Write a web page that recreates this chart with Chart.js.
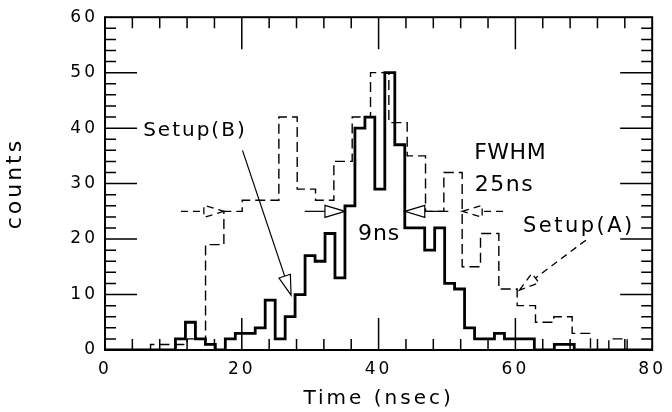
<!DOCTYPE html>
<html>
<head>
<meta charset="utf-8">
<script src="https://cdn.jsdelivr.net/npm/chart.js@4.4.1/dist/chart.umd.min.js"></script>
<style>
html, body { margin:0; padding:0; background:#fff; }
#wrap { width:672px; height:412px; }
</style>
</head>
<body>
<div id="wrap"><canvas id="timeChart"></canvas></div>
<script>

// Setup(B): thick solid histogram (left bin edge -> counts)
const solidBinEdges = [0, 10.30, 11.76, 13.22, 14.68, 16.13, 17.59, 19.05, 20.51, 21.96,
    23.42, 24.88, 26.34, 27.79, 29.25, 30.71, 32.17, 33.62, 35.08, 36.54,
    38.00, 39.45, 40.91, 42.37, 43.83, 45.28, 46.74, 48.20, 49.66, 51.11,
    52.57, 54.03, 55.49, 56.94, 58.40, 59.86, 61.32, 62.77, 64.23, 65.69,
    67.15, 68.60, 80];
const solidCounts = [0, 2, 5, 2, 1, 0, 2, 3, 3, 4,
    9, 2, 6, 10, 17, 16, 21, 13, 26, 40,
    42, 29, 50, 37, 22, 22, 18, 22, 12, 11,
    4, 2, 2, 3, 2, 2, 2, 0, 0, 1,
    1, 0, 0];

// Setup(A): dashed histogram
const dashedBinEdges = [0, 6.66, 9.34, 12.02, 14.70, 17.38, 20.06, 22.74, 25.42, 28.10,
    30.78, 33.46, 36.14, 38.82, 41.50, 44.18, 46.86, 49.54, 52.22, 54.90,
    57.58, 60.26, 62.94, 65.62, 68.30, 70.98, 73.66, 76.34, 80];
const dashedCounts = [0, 1, 1, 2, 19, 25, 27, 27, 42, 29,
    27, 34, 42, 50, 41, 35, 25, 32, 15, 21,
    11, 8, 5, 6, 3, 0, 2, 0, 0];

const xTickLabels = [0, 20, 40, 60, 80];
const yTickLabels = [0, 10, 20, 30, 40, 50, 60];

// text notes, in data coordinates
const notes = [
    {text:"Setup(B)", x:13.0, y:39.5, size:20, spacing:2},
    {text:"Setup(A)", x:69.1, y:22.2, size:21, spacing:2.5},
    {text:"FWHM",     x:59.2, y:35.4, size:22, spacing:0.5},
    {text:"25ns",     x:58.3, y:29.7, size:22, spacing:1.5},
    {text:"9ns",      x:40.0, y:20.8, size:22, spacing:1}
];

// arrows: tail -> tip
const arrows = [
    {from:[29.2, 25], to:[35.08, 25], dashed:false},
    {from:[50.2, 25], to:[43.83, 25], dashed:false},
    {from:[11.1, 25], to:[17.38, 25], dashed:true},
    {from:[58.2, 25], to:[52.22, 25], dashed:true},
    {from:[20.1, 36], to:[27.2, 9.9], dashed:false},
    {from:[70.3, 19.8], to:[60.6, 10.8], dashed:true}
];

const FONT = "'DejaVu Sans', sans-serif";
const HEAD_LEN = 20, HEAD_HALF = 6;

function drawArrow(ctx, x1, y1, x2, y2, dashed){
    const ang = Math.atan2(y2 - y1, x2 - x1);
    const bx = x2 - HEAD_LEN * Math.cos(ang), by = y2 - HEAD_LEN * Math.sin(ang);
    const nx = -Math.sin(ang) * HEAD_HALF, ny = Math.cos(ang) * HEAD_HALF;
    ctx.lineWidth = dashed ? 1.3 : 1.2;
    ctx.setLineDash(dashed ? [7, 5] : []);
    ctx.beginPath();
    ctx.moveTo(x1, y1);
    ctx.lineTo(bx, by);
    ctx.stroke();
    ctx.beginPath();
    ctx.moveTo(x2, y2);
    ctx.lineTo(bx + nx, by + ny);
    ctx.lineTo(bx - nx, by - ny);
    ctx.closePath();
    if(!dashed){
        ctx.fillStyle = "#fff";
        ctx.fill();
    }
    ctx.stroke();
    ctx.setLineDash([]);
}

// frame with inward ticks on all four sides, plus arrows and notes
const frameAndNotes = {
    id:"frameAndNotes",
    beforeDraw(chart){
        chart.ctx.letterSpacing = "3px";
    },
    afterDatasetsDraw(chart){
        const {ctx, chartArea:a, scales:{x, y}} = chart;
        ctx.save();
        ctx.letterSpacing = "0px";
        ctx.strokeStyle = "#000";
        ctx.lineWidth = 1.5;
        ctx.beginPath();
        for(let v = 4; v < 80; v += 4){
            const px = x.getPixelForValue(v);
            const len = (v % 20 === 0) ? 32 : 11;
            ctx.moveTo(px, a.bottom); ctx.lineTo(px, a.bottom - len);
            ctx.moveTo(px, a.top); ctx.lineTo(px, a.top + len);
        }
        for(let v = 2; v < 60; v += 2){
            const py = y.getPixelForValue(v);
            const len = (v % 10 === 0) ? 32 : 11;
            ctx.moveTo(a.left, py); ctx.lineTo(a.left + len, py);
            ctx.moveTo(a.right, py); ctx.lineTo(a.right - len, py);
        }
        ctx.stroke();
        ctx.lineWidth = 2;
        ctx.strokeRect(a.left, a.top, a.right - a.left, a.bottom - a.top);

        ctx.strokeStyle = "#000";
        arrows.forEach(ar => {
            drawArrow(ctx,
                x.getPixelForValue(ar.from[0]), y.getPixelForValue(ar.from[1]),
                x.getPixelForValue(ar.to[0]), y.getPixelForValue(ar.to[1]),
                ar.dashed);
        });

        ctx.fillStyle = "#000";
        ctx.textAlign = "center";
        ctx.textBaseline = "middle";
        notes.forEach(n => {
            ctx.font = n.size + "px " + FONT;
            ctx.letterSpacing = n.spacing + "px";
            ctx.fillText(n.text, x.getPixelForValue(n.x) + n.spacing / 2, y.getPixelForValue(n.y));
        });
        ctx.restore();
    }
};

Chart.defaults.font.family = FONT;
Chart.defaults.color = "#000";

new Chart(document.getElementById("timeChart"), {
    type:"line",
    data:{
        datasets:[
            {
                label:"Setup(B)",
                data:solidBinEdges.map((v, i) => ({x:v, y:solidCounts[i]})),
                stepped:"before",
                borderColor:"#000",
                borderWidth:2.8,
                pointRadius:0,
                fill:false,
                order:0
            },
            {
                label:"Setup(A)",
                data:dashedBinEdges.map((v, i) => ({x:v, y:dashedCounts[i]})),
                stepped:"before",
                borderColor:"#000",
                borderWidth:1.4,
                borderDash:[10, 5],
                pointRadius:0,
                fill:false,
                order:1
            }
        ]
    },
    options:{
        responsive:true,
        maintainAspectRatio:false,
        animation:false,
        layout:{ padding:{ top:17, right:15, left:0, bottom:0 } },
        plugins:{
            legend:{ display:false },
            tooltip:{ enabled:false }
        },
        scales:{
            x:{
                type:"linear",
                min:0,
                max:80,
                afterBuildTicks:(s) => { s.ticks = xTickLabels.map(v => ({value:v})); },
                ticks:{ font:{ size:17 }, padding:9, maxRotation:0, autoSkip:false },
                grid:{ display:false, drawTicks:false },
                border:{ display:false },
                title:{ display:true, text:"Time (nsec)", font:{ size:20 }, padding:{ top:0, bottom:1.5 } },
                afterFit:(s) => { s.height = 62; }
            },
            y:{
                type:"linear",
                min:0,
                max:60,
                afterBuildTicks:(s) => { s.ticks = yTickLabels.map(v => ({value:v})); },
                ticks:{ font:{ size:17 }, padding:7, autoSkip:false },
                grid:{ display:false, drawTicks:false },
                border:{ display:false },
                title:{ display:true, text:"counts", font:{ size:22 }, padding:{ top:1.7, bottom:0 } },
                afterFit:(s) => { s.width = 105; }
            }
        }
    },
    plugins:[frameAndNotes]
});
</script>
</body>
</html>
